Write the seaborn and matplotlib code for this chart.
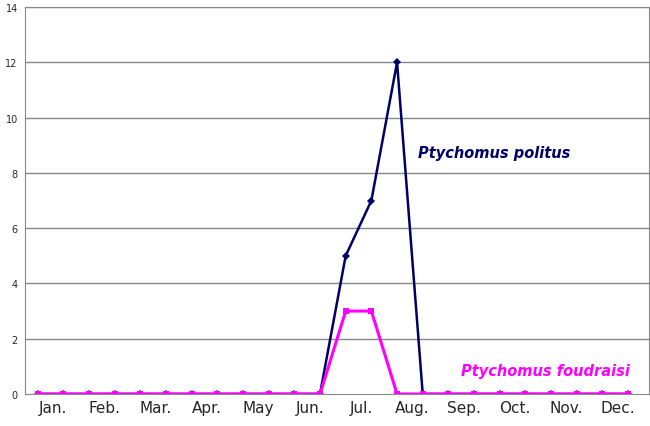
import numpy as np
import matplotlib
matplotlib.use('Agg')
import matplotlib.pyplot as plt
import seaborn as sns

sns.set_style("white")

months = ['Jan.', 'Feb.', 'Mar.', 'Apr.', 'May', 'Jun.', 'Jul.', 'Aug.',
          'Sep.', 'Oct.', 'Nov.', 'Dec.']
politus = [0, 0, 0, 0, 0, 0, 0, 0, 0, 0, 0, 0, 5, 7, 12, 0, 0, 0, 0, 0, 0, 0, 0, 0]
foudraisi = [0, 0, 0, 0, 0, 0, 0, 0, 0, 0, 0, 0, 3, 3, 0, 0, 0, 0, 0, 0, 0, 0, 0, 0]
x = np.arange(len(politus))

fig = plt.figure(figsize=(6.5, 4.27), dpi=100)
ax = fig.add_axes([0.038, 0.075, 0.96, 0.906])

for y in range(2, 15, 2):
    ax.axhline(y, color='#888888', lw=1, zorder=0)

sns.lineplot(x=x, y=politus, ax=ax, color='#000066', lw=1.8, marker='D',
             markersize=4, markeredgewidth=0)
sns.lineplot(x=x, y=foudraisi, ax=ax, color='#ff00ff', lw=2.2, marker='s',
             markersize=5, markeredgewidth=0)

ax.text(14.8, 8.75, 'Ptychomus politus', color='#000066', fontsize=10.5,
        fontweight='bold', style='italic', va='center')
ax.text(16.5, 0.85, 'Ptychomus foudraisi', color='#ff00ff', fontsize=10.5,
        fontweight='bold', style='italic', va='center')

ax.set_xlim(-0.5, 23.8)
ax.set_ylim(0, 14)
ax.set_yticks(range(0, 15, 2))
ax.tick_params(axis='y', labelsize=7, length=3, pad=2)
ax.set_xticks(np.arange(0.6, 24, 2))
ax.set_xticklabels(months, fontsize=11)
ax.tick_params(axis='x', length=0, pad=4)
ax.set_xticks(np.arange(-0.4, 24, 2), minor=True)
ax.tick_params(axis='x', which='minor', length=6, color='#888888', direction='out')

for s in ['top', 'right', 'left', 'bottom']:
    ax.spines[s].set_color('#888888')

fig.savefig('out.png', dpi=100)
